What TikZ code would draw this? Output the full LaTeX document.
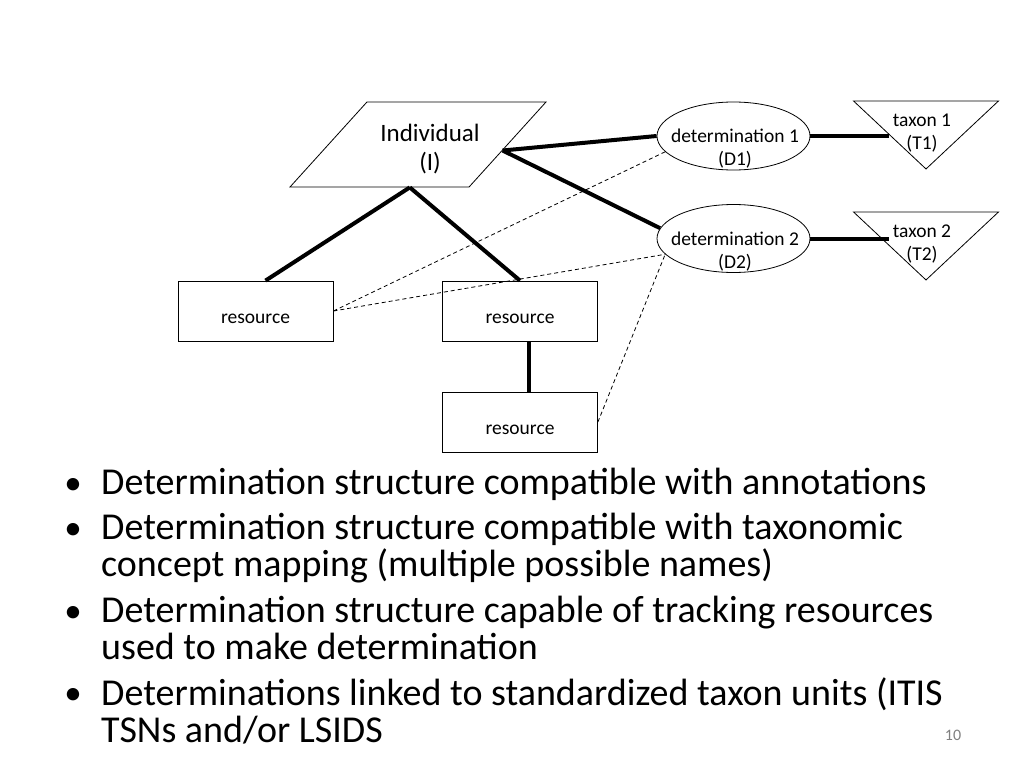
\documentclass[tikz,border=0pt]{standalone}
\usepackage{fontspec}
\setmainfont{Carlito}
\usetikzlibrary{shapes.geometric,calc}
\newcommand{\diagfont}{\fontsize{19.5}{23}\selectfont}
\tikzset{
  indbox/.style={draw, line width=0.8pt, trapezium, trapezium left angle=53,
    trapezium right angle=127, trapezium stretches, minimum width=256pt,
    minimum height=85pt, inner sep=2pt},
  detbox/.style={draw, line width=0.8pt, ellipse, minimum width=153pt,
    minimum height=68pt, inner sep=0pt},
  taxbox/.style={draw, line width=0.8pt, isosceles triangle,
    isosceles triangle stretches, shape border rotate=270,
    minimum width=145pt, minimum height=68pt, inner sep=2pt},
  resbox/.style={draw, line width=0.8pt, rectangle, minimum width=155pt,
    minimum height=60pt, inner sep=0pt, text height=24pt, text depth=0pt,
    font=\diagfont},
  lbl/.style={align=center, inner sep=0pt, font=\diagfont},
  tie/.style={line width=4pt},
  hint/.style={line width=0.8pt, dash pattern=on 4pt off 3pt},
  bullet/.style={anchor=base west, align=left, inner sep=0pt,
    font=\fontsize{38}{37}\selectfont},
  dot/.style={anchor=base, inner sep=0pt, font=\fontsize{35}{35}\selectfont}
}

\begin{document}
\begin{tikzpicture}[x=1pt, y=-1pt]
	\useasboundingbox (0,0) rectangle (1024,768);
	\fill[white] (0,0) rectangle (1024,768);

	% individual and its determinations
	\node[indbox] (I) at (418,144.5) {};
	\node[lbl, font=\fontsize{25}{29}\selectfont] (It) at (430,149) {Individual\\(I)};
	\node[detbox] (D1) at (733.5,136) {};
	\node[lbl] (D1t) at (735,149) {determination 1\\(D1)};
	\node[detbox] (D2) at (733.5,238.5) {};
	\node[lbl] (D2t) at (735,251.5) {determination 2\\(D2)};
	\node[taxbox, anchor=apex] (T1) at (926,170) {};
	\node[lbl] (T1t) at (922,133) {taxon 1\\(T1)};
	\node[taxbox, anchor=apex] (T2) at (926,281) {};
	\node[lbl] (T2t) at (922,244) {taxon 2\\(T2)};

	% resources
	\node[resbox] (R1) at (255.5,311) {resource};
	\node[resbox] (R2) at (520,311) {resource};
	\node[resbox] (R3) at (520,422) {resource};

	\coordinate (Ib) at ($(I.bottom left corner)!0.67!(I.bottom right corner)$);
	\coordinate (Ir) at ($(I.top right corner)!0.57!(I.bottom right corner)$);
	\draw[tie] (Ib) -- ([xshift=10pt]R1.north);
	\draw[tie] (Ib) -- (R2.north);
	\draw[tie] (Ir) -- (D1.west);
	\draw[tie] (Ir) -- (D2.172);
	\draw[tie] (D1.east) -- (D1.east -| T1.right side);
	\draw[tie] (D2.east) -- (D2.east -| T2.right side);
	\draw[tie] ([xshift=9pt]R2.south) -- ([xshift=9pt]R3.north);
	\draw[hint] (R1.east) -- (D1.193);
	\draw[hint] (R1.east) -- (D2.193);
	\draw[hint] (R3.east) -- (D2.193);

	% bullet points
	\foreach \i/\y/\z/\txt in {1/494/494/{Determination structure compatible with annotations},
		2/539/576/{Determination structure compatible with taxonomic\\concept mapping (multiple possible names)},
		3/622/659/{Determination structure capable of tracking resources\\used to make determination},
		4/704/742/{Determinations linked to standardized taxon units (ITIS\\TSNs and/or LSIDS}}{
		\node[dot] (d\i) at (73,\y) {•};
		\node[bullet] (b\i) at (101,\z) {\txt};
	}
	\node[text=gray, font=\fontsize{16}{16}\selectfont] (pg) at (953,735) {10};
\end{tikzpicture}
\end{document}
